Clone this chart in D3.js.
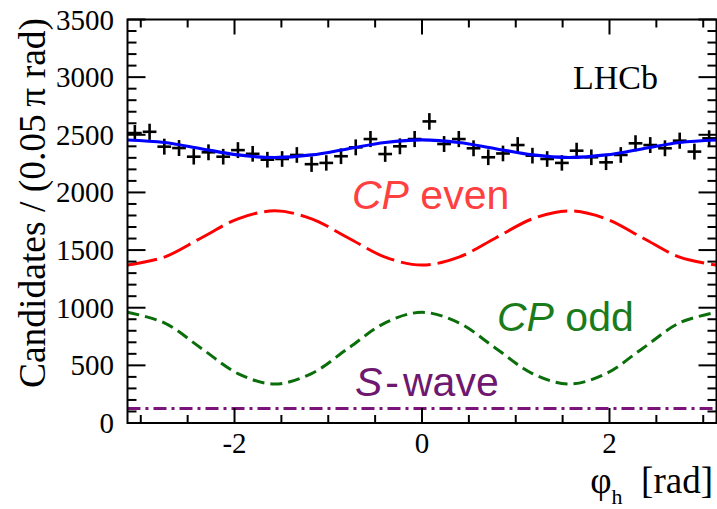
<!DOCTYPE html>
<html>
<head>
<meta charset="utf-8">
<script src="https://cdn.jsdelivr.net/npm/d3@7"></script>
<style>
  html, body { margin: 0; padding: 0; background: #fff; }
  svg { display: block; }
</style>
</head>
<body>
<svg id="chart" width="717" height="509"></svg>
<script>
// Helicity-angle distribution: binned candidates and fit components
const binCounts = [
  2515, 2526, 2397, 2385, 2310, 2348, 2310, 2367, 2335, 2284,
  2290, 2325, 2245, 2256, 2314, 2391, 2463, 2333, 2400, 2463,
  2616, 2420, 2463, 2383, 2305, 2338, 2411, 2319, 2290, 2256,
  2362, 2305, 2261, 2325, 2426, 2411, 2383, 2449, 2354, 2469
];
const binErrors = [
  70, 70, 69, 69, 68, 69, 68, 69, 68, 68,
  68, 68, 67, 67, 68, 69, 70, 68, 69, 70,
  72, 69, 70, 69, 68, 68, 69, 68, 68, 67,
  69, 68, 67, 68, 70, 69, 69, 70, 69, 70
];

// Fit projections sampled every pi/8 from -pi to pi
const curveSteps = [-8, -7, -6, -5, -4, -3, -2, -1, 0, 1, 2, 3, 4, 5, 6, 7, 8];
const totalFit = [2455, 2433, 2379, 2325, 2303, 2325, 2379, 2433, 2455, 2433, 2379, 2325, 2303, 2325, 2379, 2433, 2455];
const cpEven   = [1370, 1439, 1605, 1771, 1840, 1771, 1605, 1439, 1370, 1439, 1605, 1771, 1840, 1771, 1605, 1439, 1370];
const cpOdd    = [960, 869, 649, 429, 338, 429, 649, 869, 960, 869, 649, 429, 338, 429, 649, 869, 960];
const sWave    = [125, 125, 125, 125, 125, 125, 125, 125, 125, 125, 125, 125, 125, 125, 125, 125, 125];

const yTicks = [0, 500, 1000, 1500, 2000, 2500, 3000, 3500];
const xTicks = [-2, 0, 2];

const margin = { left: 127.5, right: 716.5, top: 19.5, bottom: 423 };
const svg = d3.select("#chart");

const x = d3.scaleLinear().domain([-Math.PI, Math.PI]).range([margin.left, margin.right]);
const y = d3.scaleLinear().domain([0, 3500]).range([margin.bottom, margin.top]);

const serif = "'Liberation Serif', 'Times New Roman', serif";
const sans = "'Liberation Sans', Arial, Helvetica, sans-serif";

const plot = svg.append("g");

// Fit component curves
const step = Math.PI / 8;
function drawCurve(values, color, width, dash) {
  const pts = curveSteps.map((k, i) => [k * step, values[i]]);
  plot.append("path")
    .datum(pts)
    .attr("d", d3.line().x(d => x(d[0])).y(d => y(d[1])).curve(d3.curveCatmullRom.alpha(0.5)))
    .attr("fill", "none")
    .attr("stroke", color)
    .attr("stroke-width", width)
    .attr("stroke-dasharray", dash);
}
drawCurve(sWave, "#7a137a", 3, "13,5,3,5");
drawCurve(cpOdd, "#0a6e0a", 3, "12,6");
drawCurve(cpEven, "#ff0000", 3, "30,7");

// Data points with error bars
const binWidth = 2 * Math.PI / binCounts.length;
const pts = plot.append("g").attr("stroke", "#000").attr("stroke-width", 2.6);
binCounts.forEach((v, i) => {
  const c = -Math.PI + (i + 0.5) * binWidth;
  const err = binErrors[i];
  pts.append("line")
    .attr("x1", x(c - binWidth / 2) + 0.5).attr("x2", x(c + binWidth / 2) - 0.5)
    .attr("y1", y(v)).attr("y2", y(v));
  pts.append("line")
    .attr("x1", x(c)).attr("x2", x(c))
    .attr("y1", y(v - err)).attr("y2", y(v + err));
});

drawCurve(totalFit, "#0000ff", 3.2, null);

// Frame and ticks
const axes = svg.append("g").attr("stroke", "#000");
axes.append("rect")
  .attr("x", margin.left).attr("y", margin.top)
  .attr("width", margin.right - margin.left).attr("height", margin.bottom - margin.top)
  .attr("fill", "none").attr("stroke-width", 2);

const yMinor = d3.range(0, 3501, 100);
yMinor.forEach(v => {
  const major = v % 500 === 0;
  const len = major ? 18 : 9;
  axes.append("line").attr("x1", margin.left).attr("x2", margin.left + len)
    .attr("y1", y(v)).attr("y2", y(v)).attr("stroke-width", 2);
  axes.append("line").attr("x1", margin.right).attr("x2", margin.right - len)
    .attr("y1", y(v)).attr("y2", y(v)).attr("stroke-width", 2);
});

const xMinor = d3.range(-3, 3.01, 0.5);
xMinor.forEach(v => {
  const major = Math.abs(v % 2) < 1e-9;
  const len = major ? 15 : 8;
  axes.append("line").attr("x1", x(v)).attr("x2", x(v))
    .attr("y1", margin.bottom).attr("y2", margin.bottom - len).attr("stroke-width", 2);
  axes.append("line").attr("x1", x(v)).attr("x2", x(v))
    .attr("y1", margin.top).attr("y2", margin.top + len).attr("stroke-width", 2);
});

// Tick labels
svg.append("g").selectAll("text").data(yTicks).join("text")
  .attr("x", 114).attr("y", d => y(d) + 10)
  .attr("text-anchor", "end")
  .attr("font-family", serif).attr("font-size", 29)
  .text(d => d);

svg.append("g").selectAll("text").data(xTicks).join("text")
  .attr("x", d => x(d)).attr("y", 453)
  .attr("text-anchor", "middle")
  .attr("font-family", serif).attr("font-size", 29)
  .text(d => d === -2 ? "-2" : d);

// Axis titles
svg.append("text")
  .attr("transform", "translate(45,203) rotate(-90)")
  .attr("text-anchor", "middle")
  .attr("font-family", serif).attr("font-size", 37.5)
  .text("Candidates / (0.05\u2009π rad)");

const xt = svg.append("text")
  .attr("x", 713).attr("y", 493)
  .attr("text-anchor", "end")
  .attr("font-family", serif).attr("font-size", 37);
xt.append("tspan").text("φ");
xt.append("tspan").attr("dy", 11).attr("font-size", 22).text("h");
xt.append("tspan").attr("dy", -11).text("\u2002[rad]");

// Experiment label
svg.append("text")
  .attr("x", 573).attr("y", 89)
  .attr("font-family", serif).attr("font-size", 34)
  .text("LHCb");

// Component labels
function compLabel(px, py, color, parts) {
  const t = svg.append("text").attr("x", px).attr("y", py)
    .attr("font-family", sans).attr("font-size", 41).attr("fill", color);
  parts.forEach(p => {
    const s = t.append("tspan").text(p.text);
    if (p.italic) s.attr("font-style", "italic");
    if (p.dx) s.attr("dx", p.dx);
  });
}
compLabel(352, 209, "#ff4040", [{ text: "CP", italic: true }, { text: " even" }]);
compLabel(497, 331, "#1b7b1b", [{ text: "CP", italic: true }, { text: " odd" }]);
compLabel(355, 396, "#6e1870", [{ text: "S", italic: true }, { text: "-", dx: 3 }, { text: "wave", dx: 4 }]);
</script>
</body>
</html>
